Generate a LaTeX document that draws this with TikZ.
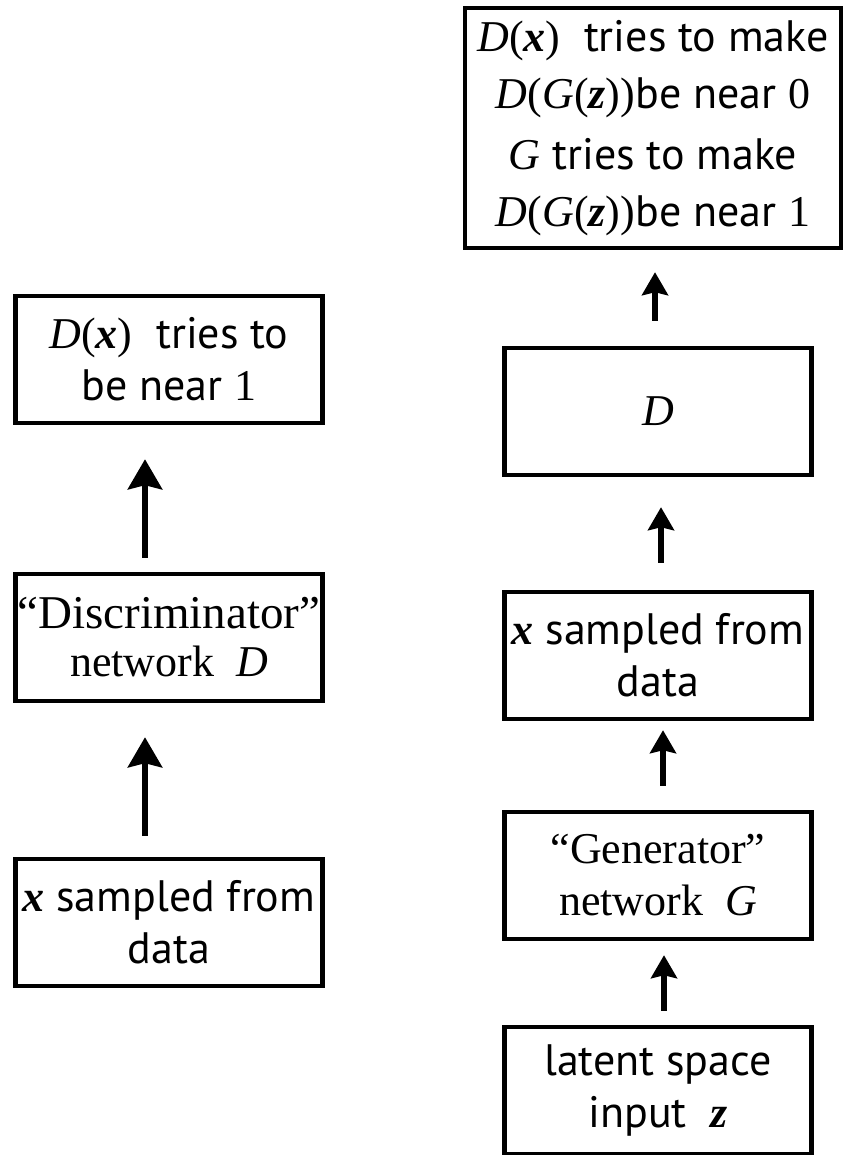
\documentclass[tikz,border=0pt]{standalone}
\usepackage{fontspec}
\setmainfont{Liberation Serif}
\setsansfont{PT Sans}
\usepackage{tikz}
\usetikzlibrary{arrows.meta, positioning}
\newcommand{\vecx}{{\rmfamily\bfseries\itshape x}}
\newcommand{\vecz}{{\rmfamily\bfseries\itshape z}}
\newcommand{\symD}{{\rmfamily\itshape D}}
\newcommand{\symG}{{\rmfamily\itshape G}}
\newcommand{\num}[1]{{\rmfamily #1}}
\newcommand{\lp}{{\rmfamily(}}
\newcommand{\rp}{{\rmfamily)}}

\begin{document}
\begin{tikzpicture}[
    x=0.5pt, y=-0.5pt,
    box/.style={rectangle, draw=black, line width=2.2pt, minimum width=153.5pt, minimum height=63.5pt, inner sep=0pt, align=center, font=\sffamily\fontsize{22}{26}\selectfont},
    bigbox/.style={box, minimum width=188pt, minimum height=120pt, font=\sffamily\fontsize{22}{28.5}\selectfont},
    bigflow/.style={-{Stealth[length=15pt,width=17pt,inset=2pt]}, line width=3.3pt},
    flow/.style={-{Stealth[length=11.5pt,width=13pt,inset=1.5pt]}, line width=3pt}
]
\fill[white] (0,0) rectangle (846,1155);
\useasboundingbox (0,0) rectangle (846,1155);

% left column: discriminator on real data
\node[box] (L1) at (169,922.5) {\vecx\ sampled from\\data};
\node[box, above=76.8pt of L1, font=\rmfamily\fontsize{22}{24}\selectfont] (L2) {\fontsize{23.5}{26}\selectfont``Discriminator''\\network\ \ \symD};
\node[box, above=73.3pt of L2] (L3) {\symD\lp\vecx\rp\ \ tries to\\be near \num{1}};

\draw[bigflow, shorten <=10.5pt, shorten >=17pt] ([xshift=-12pt]L1.north) -- ([xshift=-12pt]L2.south);
\draw[bigflow, shorten <=7pt, shorten >=17pt] ([xshift=-12pt]L2.north) -- ([xshift=-12pt]L3.south);

% right column: generator path
\node[box] (R1) at (658,1090.5) {latent space\\input\ \ \vecz};
\node[box, above=41.8pt of R1, font=\rmfamily\fontsize{22}{26}\selectfont] (R2) {``Generator''\\network\ \ \symG};
\node[box, above=44.3pt of R2] (R3) {\vecx\ sampled from\\data};
\node[box, above=56.3pt of R3] (R4) {\symD};
\node[bigbox, above=47.8pt of R4, xshift=-2.5pt] (R5) {\symD\lp\vecx\rp\ \ tries to make\\\symD\lp\symG\lp\vecz\rp\rp be near \num{0}\\[2pt]\symG\ tries to make\\\symD\lp\symG\lp\vecz\rp\rp be near \num{1}};

\draw[flow, shorten <=7pt, shorten >=7pt] ([xshift=3pt]R1.north) -- ([xshift=3pt]R2.south);
\draw[flow, shorten <=12pt, shorten >=4.5pt] ([xshift=2.5pt]R2.north) -- ([xshift=2.5pt]R3.south);
\draw[flow, shorten <=13.5pt, shorten >=15pt] ([xshift=1.5pt]R3.north) -- ([xshift=1.5pt]R4.south);
\draw[flow, shorten <=12.5pt, shorten >=11pt] ([xshift=-1.5pt]R4.north) -- ([xshift=1pt]R5.south);
\end{tikzpicture}
\end{document}
